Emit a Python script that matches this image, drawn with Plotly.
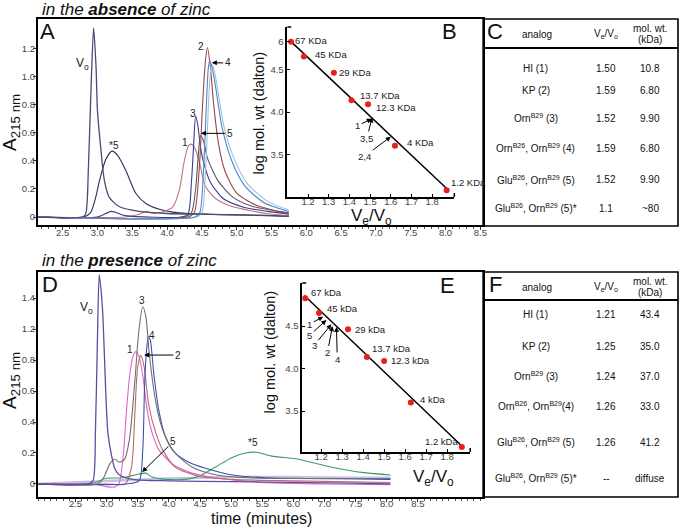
import plotly.graph_objects as go

W, H = 683, 529
FONT = "Liberation Sans, Arial, sans-serif"

# ======================= DATA =======================
# Panel A: elution profiles in the absence of zinc (time, min ; A215)
A_vo_t = [2.15, 2.78, 2.83, 2.87, 2.91, 2.945, 2.98, 3.0, 3.05, 3.1, 3.17, 3.31, 3.6, 4.0, 4.5, 5.0, 5.5, 5.75]
A_vo_y = [0, 0, 0.02, 0.35, 0.95, 1.35, 1.07, 0.76, 0.48, 0.26, 0.14, 0.075, 0.04, 0.025, 0.02, 0.015, 0.01, 0.005]
A_s5_t = [2.15, 2.8, 2.9, 2.97, 3.03, 3.12, 3.21, 3.29, 3.41, 3.55, 3.7, 3.89, 4.08, 4.3, 4.6, 5.0, 5.5, 5.75]
A_s5_y = [0, 0, 0.03, 0.13, 0.26, 0.41, 0.47, 0.44, 0.33, 0.17, 0.095, 0.055, 0.035, 0.025, 0.02, 0.015, 0.01, 0.005]
A_1_t = [2.15, 3.4, 3.6, 3.7, 3.8, 3.95, 4.08, 4.18, 4.24, 4.3, 4.34, 4.4, 4.47, 4.55, 4.7, 4.9, 5.2, 5.5, 5.75]
A_1_y = [0, 0, 0.02, 0.04, 0.025, 0.04, 0.07, 0.2, 0.38, 0.5, 0.52, 0.49, 0.38, 0.22, 0.13, 0.08, 0.045, 0.02, 0.01]
A_2_t = [2.15, 4.3, 4.39, 4.46, 4.51, 4.55, 4.58, 4.62, 4.67, 4.74, 4.83, 5.0, 5.3, 5.6, 5.75]
A_2_y = [0, 0, 0.03, 0.33, 0.8, 1.11, 1.21, 1.08, 0.8, 0.52, 0.33, 0.17, 0.08, 0.04, 0.02]
A_3_t = [2.15, 3.0, 3.2, 3.4, 4.2, 4.3, 4.35, 4.38, 4.41, 4.44, 4.48, 4.52, 4.62, 4.81, 5.1, 5.44, 5.75]
A_3_y = [0, 0, 0.04, 0.01, 0, 0.02, 0.25, 0.5, 0.72, 0.66, 0.5, 0.4, 0.25, 0.13, 0.07, 0.04, 0.02]
A_4_t = [2.15, 4.4, 4.47, 4.52, 4.56, 4.59, 4.61, 4.64, 4.69, 4.79, 4.93, 5.12, 5.4, 5.75]
A_4_y = [0, 0, 0.03, 0.3, 0.75, 1.05, 1.115, 1.08, 0.95, 0.64, 0.4, 0.22, 0.1, 0.04]
A_4b_t = [2.15, 4.42, 4.5, 4.55, 4.59, 4.62, 4.64, 4.67, 4.72, 4.82, 4.96, 5.15, 5.45, 5.75]
A_4b_y = [0, 0, 0.03, 0.3, 0.75, 1.02, 1.09, 1.06, 0.93, 0.64, 0.42, 0.24, 0.11, 0.05]
A_5_t = [2.15, 4.25, 4.35, 4.41, 4.45, 4.48, 4.52, 4.58, 4.73, 4.95, 5.2, 5.6, 5.75]
A_5_y = [0, 0, 0.03, 0.2, 0.45, 0.58, 0.55, 0.42, 0.26, 0.14, 0.08, 0.04, 0.03]

# Panel D: elution profiles in the presence of zinc (axis position ; A215)
D_vo_t = [1.9, 2.7, 2.78, 2.82, 2.85, 2.88, 2.91, 2.94, 2.98, 3.02, 3.08, 3.13, 3.2, 3.42, 4.0, 5.0, 6.0, 7.0, 7.56]
D_vo_y = [0, 0, 0.02, 0.35, 0.9, 1.35, 1.25, 1.08, 0.65, 0.33, 0.18, 0.1, 0.06, 0.03, 0.02, 0.015, 0.01, 0.005, 0.0]
D_3_t = [1.9, 2.85, 2.95, 3.05, 3.13, 3.2, 3.29, 3.37, 3.45, 3.52, 3.58, 3.63, 3.68, 3.76, 3.84, 3.95, 4.1, 4.37, 4.75, 5.28, 6.0, 7.0, 7.56]
D_3_y = [0, 0, 0.04, 0.13, 0.16, 0.14, 0.16, 0.3, 0.65, 1.0, 1.144, 1.08, 0.86, 0.6, 0.43, 0.3, 0.2, 0.11, 0.06, 0.04, 0.035, 0.035, 0.035]
D_1_t = [1.9, 2.8, 2.99, 3.13, 3.2, 3.27, 3.31, 3.37, 3.42, 3.47, 3.52, 3.58, 3.65, 3.73, 3.84, 4.05, 4.37, 4.75, 5.5, 6.5, 7.56]
D_1_y = [0, 0, -0.017, -0.02, 0.005, 0.2, 0.43, 0.7, 0.82, 0.854, 0.82, 0.7, 0.48, 0.33, 0.22, 0.13, 0.07, 0.04, 0.01, 0.0, -0.005]
D_2_t = [1.9, 3.0, 3.3, 3.4, 3.45, 3.5, 3.55, 3.6, 3.68, 3.79, 3.9, 4.1, 4.48, 5.0, 6.0, 7.56]
D_2_y = [0, 0, 0.0, 0.11, 0.43, 0.76, 0.83, 0.76, 0.5, 0.33, 0.22, 0.11, 0.05, 0.03, 0.02, 0.01]
D_4_t = [1.9, 3.3, 3.52, 3.58, 3.61, 3.64, 3.67, 3.7, 3.76, 3.84, 3.95, 4.1, 4.32, 4.6, 5.0, 5.55, 6.5, 7.56]
D_4_y = [0, 0, 0.02, 0.22, 0.65, 0.86, 0.95, 0.93, 0.7, 0.47, 0.3, 0.2, 0.14, 0.1, 0.06, 0.04, 0.035, 0.03]
D_5_t = [1.9, 2.78, 2.99, 3.26, 3.47, 3.63, 3.73, 3.95, 4.27, 4.48, 4.75, 5.01, 5.23, 5.41, 5.65, 6.08, 6.6, 7.14, 7.56]
D_5_y = [0, 0.005, 0.037, 0.04, 0.06, 0.07, 0.045, 0.03, 0.03, 0.05, 0.11, 0.17, 0.2, 0.205, 0.18, 0.16, 0.11, 0.073, 0.058]
D_base_t = [1.9, 3.0, 4.0, 5.0, 6.0, 7.0, 7.56]
D_base_y = [0, 0.02, 0.035, 0.045, 0.045, 0.04, 0.04]

# Tick labels
A_xticks = [2.5, 3.0, 3.5, 4.0, 4.5, 5.0, 5.5, 6.0, 6.5, 7.0, 7.5, 8.0, 8.5]
A_yticks = [0, 0.2, 0.4, 0.6, 0.8, 1.0, 1.2]
A_ytext = ["0", "0.2", "0.4", "0.6", "0.8", "1.0", "1.2"]
D_xticks = [2.5, 3.0, 3.5, 4.0, 4.5, 5.0, 5.5, 6.0, 6.5, 7.0, 7.5, 8.0]
D_xtext = ["2.5", "3.0", "3.5", "4.0", "4.5", "5.0", "5.5", "6.0", "7.0", "7.5", "8.0", "8.5"]
D_yticks = [0, 0.2, 0.4, 0.6, 0.8, 1.0, 1.2]
D_ytext = ["0", "0.2", "0.4", "0.6", "0.8", "1.2", "1.4"]

# Panel B / E: calibration standards (Ve/Vo ; log mol. wt)
std_logmw = [4.826, 4.653, 4.462, 4.137, 4.090, 3.602, 3.079]
B_ratio = [1.118, 1.18, 1.325, 1.41, 1.49, 1.62, 1.87]
B_names = ["67 KDa", "45 KDa", "29 KDa", "13.7 KDa", "12.3 KDa", "4 KDa", "1.2 KDa"]
B_fit_x = [1.113, 1.87]
B_fit_y = [4.84, 3.10]
B_yticks = [4.83, 4.5, 4.0, 3.5]
B_ytext = ["6", "4.5", "4.0", "3.5"]
E_ratio = [1.124, 1.19, 1.328, 1.418, 1.50, 1.627, 1.87]
E_names = ["67 kDa", "45 kDa", "29 kDa", "13.7 kDa", "12.3 kDa", "4 kDa", "1.2 kDa"]
E_fit_x = [1.12, 1.87]
E_fit_y = [4.86, 3.09]
ratio_ticks = [1.2, 1.3, 1.4, 1.5, 1.6, 1.7, 1.8]

# Tables C / F
analogs_C = ["HI (1)", "KP (2)", "Orn<sup>B29</sup> (3)", "Orn<sup>B26</sup>, Orn<sup>B29</sup> (4)",
             "Glu<sup>B26</sup>, Orn<sup>B29</sup> (5)", "Glu<sup>B26</sup>, Orn<sup>B29</sup> (5)*"]
ve_C = ["1.50", "1.59", "1.52", "1.59", "1.52", "1.1"]
mw_C = ["10.8", "6.80", "9.90", "6.80", "9.90", "~80"]
analogs_F = ["HI (1)", "KP (2)", "Orn<sup>B29</sup> (3)", "Orn<sup>B26</sup>, Orn<sup>B29</sup>(4)",
             "Glu<sup>B26</sup>, Orn<sup>B29</sup> (5)", "Glu<sup>B26</sup>, Orn<sup>B29</sup> (5)*"]
ve_F = ["1.21", "1.25", "1.24", "1.26", "1.26", "--"]
mw_F = ["43.4", "35.0", "37.0", "33.0", "41.2", "diffuse"]

# ======================= LAYOUT HELPERS =======================
def X(px):
    return px / W

def Y(py):
    return 1 - py / H

fig = go.Figure()

def curve(t, y, color, xa, ya, width=1.1):
    fig.add_trace(go.Scatter(x=t, y=y, mode="lines", xaxis=xa, yaxis=ya,
                             line=dict(color=color, width=width, shape="spline", smoothing=0.7),
                             hoverinfo="skip", showlegend=False))

# Panel A traces
curve(A_s5_t, A_s5_y, "#2c2c5a", "x", "y")
curve(A_1_t, A_1_y, "#c27480", "x", "y")
curve(A_3_t, A_3_y, "#3c3c88", "x", "y")
curve(A_5_t, A_5_y, "#55556e", "x", "y")
curve(A_2_t, A_2_y, "#9c4646", "x", "y")
curve(A_4b_t, A_4b_y, "#9cc0e4", "x", "y")
curve(A_4_t, A_4_y, "#4f86c6", "x", "y")
curve(A_vo_t, A_vo_y, "#4a4a72", "x", "y", 1.3)

# Panel D traces
curve(D_base_t, D_base_y, "#c4c0e8", "x3", "y3", 2.5)
curve(D_5_t, D_5_y, "#3a9c68", "x3", "y3")
curve(D_1_t, D_1_y, "#e060cf", "x3", "y3")
curve(D_2_t, D_2_y, "#b86a6a", "x3", "y3")
curve(D_4_t, D_4_y, "#3b4fb0", "x3", "y3")
curve(D_3_t, D_3_y, "#707070", "x3", "y3")
curve(D_vo_t, D_vo_y, "#5c4fa0", "x3", "y3", 1.3)

# Calibration insets
for xs, fx, fy, xa, ya in [(B_ratio, B_fit_x, B_fit_y, "x2", "y2"), (E_ratio, E_fit_x, E_fit_y, "x4", "y4")]:
    fig.add_trace(go.Scatter(x=fx, y=fy, mode="lines", xaxis=xa, yaxis=ya,
                             line=dict(color="black", width=1.5), hoverinfo="skip", showlegend=False))
    fig.add_trace(go.Scatter(x=xs, y=std_logmw, mode="markers", xaxis=xa, yaxis=ya,
                             marker=dict(color="#e8201c", size=6), hoverinfo="skip", showlegend=False))

tickfont = dict(family=FONT, size=9.5, color="#444")
main_axis = dict(showline=True, linecolor="black", linewidth=1.6, mirror=True, showgrid=False,
                 zeroline=False, ticks="outside", ticklen=3, tickcolor="#333", tickfont=tickfont)
inset_axis = dict(showline=True, linecolor="black", linewidth=1.5, showgrid=False, zeroline=False,
                  ticks="inside", ticklen=3, tickcolor="black", tickfont=tickfont)

fig.update_layout(
    width=W, height=H, margin=dict(l=0, r=0, t=0, b=0),
    paper_bgcolor="white", plot_bgcolor="rgba(0,0,0,0)", showlegend=False,
    font=dict(family=FONT, color="#222"),
    xaxis=dict(main_axis, domain=[X(38), X(486)], range=[2.143, 8.54], anchor="y",
               tickmode="array", tickvals=A_xticks, ticktext=[f"{v:.1f}" for v in A_xticks],
               ticklabelstandoff=-5,
               minor=dict(tick0=2.5, dtick=0.1, ticks="outside", ticklen=2, tickcolor="#555")),
    yaxis=dict(main_axis, domain=[Y(225), Y(19)], range=[-0.057, 1.413], anchor="x",
               tickmode="array", tickvals=A_yticks, ticktext=A_ytext, ticklabelstandoff=-4),
    xaxis2=dict(inset_axis, domain=[X(289), X(457)], range=[1.1, 1.907], anchor="y2",
                tickmode="array", tickvals=ratio_ticks, ticktext=[f"{v:.1f}" for v in ratio_ticks],
                ticklabelstandoff=-5),
    yaxis2=dict(inset_axis, domain=[Y(197), Y(27)], range=[3.0, 5.0], anchor="x2",
                tickmode="array", tickvals=B_yticks, ticktext=B_ytext),
    xaxis3=dict(main_axis, domain=[X(38), X(486)], range=[1.893, 9.05], anchor="y3",
                tickmode="array", tickvals=D_xticks, ticktext=D_xtext, ticklabelstandoff=-6,
                minor=dict(tick0=2.5, dtick=0.1, ticks="outside", ticklen=2, tickcolor="#555")),
    yaxis3=dict(main_axis, domain=[Y(497), Y(272)], range=[-0.084, 1.368], anchor="x3",
                tickmode="array", tickvals=D_yticks, ticktext=D_ytext, ticklabelstandoff=-4),
    xaxis4=dict(inset_axis, domain=[X(304), X(473)], range=[1.11, 1.91], anchor="y4",
                tickmode="array", tickvals=ratio_ticks, ticktext=[f"{v:.1f}" for v in ratio_ticks],
                ticklabelstandoff=-5),
    yaxis4=dict(inset_axis, domain=[Y(452), Y(283)], range=[3.02, 5.006], anchor="x4",
                tickmode="array", tickvals=[4.5, 4.0, 3.5], ticktext=["4.5", "4.0", "3.5"]),
)

ann = []
shapes = []

def ptext(px, py, text, size, xanchor="center", yanchor="middle", color="#111", angle=0):
    ann.append(dict(x=X(px), y=Y(py), xref="paper", yref="paper", text=text, showarrow=False,
                    xanchor=xanchor, yanchor=yanchor, textangle=angle,
                    font=dict(family=FONT, size=size, color=color)))

def dtext(x, y, text, xa, ya, size=10, xanchor="center"):
    ann.append(dict(x=x, y=y, xref=xa, yref=ya, text=text, showarrow=False, xanchor=xanchor,
                    yanchor="middle", font=dict(family=FONT, size=size, color="#222")))

def darrow(x, y, tx, ty, text, xa, ya, size=10):
    ann.append(dict(x=x, y=y, ax=tx, ay=ty, xref=xa, yref=ya, axref=xa, ayref=ya, text=text,
                    showarrow=True, arrowhead=2, arrowsize=1, arrowwidth=1, arrowcolor="black",
                    font=dict(family=FONT, size=size, color="#222"), standoff=0))

# Titles
ptext(40, 9, "<i>in the <b>absence</b> of zinc</i>", 17, xanchor="left")
ptext(40, 260, "<i>in the <b>presence</b> of zinc</i>", 17, xanchor="left")
ptext(263, 518, "time (minutes)", 16)

# Panel letters
for px, py, s in [(48, 31, "A"), (452, 31, "B"), (498, 31, "C"),
                  (50, 284, "D"), (450, 285, "E"), (498, 284, "F")]:
    ptext(px, py, s, 22)

# Axis titles
ptext(11, 122, "A<sub>215 nm</sub>", 19, angle=-90)
ptext(11, 380, "A<sub>215 nm</sub>", 19, angle=-90)
ptext(261, 113, "log mol. wt (dalton)", 14.5, angle=-90)
ptext(272, 352, "log mol. wt (dalton)", 14.5, angle=-90)
ptext(374, 217, "V<sub>e</sub>/V<sub>o</sub>", 17)
ptext(436, 478, "V<sub>e</sub>/V<sub>o</sub>", 17)

# Panel A labels
dtext(2.786, 1.094, "V<sub>o</sub>", "x", "y", 12)
dtext(3.243, 0.511, "*5", "x", "y", 10)
dtext(4.486, 1.22, "2", "x", "y", 10)
dtext(4.371, 0.739, "3", "x", "y", 10)
dtext(4.257, 0.533, "1", "x", "y", 10)
darrow(4.643, 1.10, 4.871, 1.10, "4", "x", "y")
darrow(4.486, 0.597, 4.90, 0.597, "5", "x", "y")

# Panel D labels
dtext(2.676, 1.135, "V<sub>o</sub>", "x3", "y3", 12)
dtext(3.57, 1.187, "3", "x3", "y3")
dtext(3.73, 0.961, "4", "x3", "y3")
dtext(3.379, 0.865, "1", "x3", "y3")
dtext(5.359, 0.265, "*5", "x3", "y3")
darrow(3.602, 0.832, 4.145, 0.832, "2", "x3", "y3")
darrow(3.57, 0.077, 4.065, 0.271, "5", "x3", "y3")

# Inset B labels
B_lab_x = [1.128, 1.224, 1.34, 1.44, 1.517, 1.667, 1.883]
B_lab_y = [4.84, 4.68, 4.46, 4.19, 4.05, 3.64, 3.17]
for xx, yy, nm in zip(B_lab_x, B_lab_y, B_names):
    dtext(xx, yy, nm, "x2", "y2", 9.5, "left")
darrow(1.508, 3.92, 1.44, 3.84, "1", "x2", "y2", 9.5)
darrow(1.51, 3.935, 1.484, 3.69, "3,5", "x2", "y2", 9.5)
darrow(1.60, 3.71, 1.474, 3.48, "2,4", "x2", "y2", 9.5)

# Inset E labels
E_lab_x = [1.142, 1.217, 1.352, 1.431, 1.522, 1.66, 1.683]
E_lab_y = [4.90, 4.71, 4.46, 4.24, 4.09, 3.64, 3.14]
for xx, yy, nm in zip(E_lab_x, E_lab_y, E_names):
    dtext(xx, yy, nm, "x4", "y4", 9.5, "left")
darrow(1.21, 4.61, 1.146, 4.524, "1", "x4", "y4", 9.5)
darrow(1.225, 4.57, 1.146, 4.394, "5", "x4", "y4", 9.5)
darrow(1.249, 4.52, 1.167, 4.276, "3", "x4", "y4", 9.5)
darrow(1.254, 4.50, 1.23, 4.186, "2", "x4", "y4", 9.5)
darrow(1.273, 4.49, 1.277, 4.108, "4", "x4", "y4", 9.5)

# inset axis end caps
for x0, y0, x1, y1 in [(289, 27, 293, 27), (457, 197, 457, 193), (304, 283, 308, 283), (473, 452, 473, 448)]:
    shapes.append(dict(type="line", xref="paper", yref="paper", x0=X(x0), y0=Y(y0), x1=X(x1), y1=Y(y1),
                       line=dict(color="black", width=1.5)))

# Tables
def table(top, sep, bottom, rows_y, analogs, ve, mw):
    shapes.append(dict(type="rect", xref="paper", yref="paper", x0=X(486), x1=X(682), y0=Y(bottom), y1=Y(top),
                       line=dict(color="black", width=1.6)))
    shapes.append(dict(type="line", xref="paper", yref="paper", x0=X(486), x1=X(682), y0=Y(sep), y1=Y(sep),
                       line=dict(color="black", width=1.8)))
    hy = (top + sep) / 2
    ptext(540, hy + 1, "analog", 10)
    ptext(610, hy + 1, "V<sub>e</sub>/V<sub>o</sub>", 10)
    ptext(654, hy - 5, "mol. wt.", 10)
    ptext(654, hy + 6, "(kDa)", 10)
    for ry, a, v, m in zip(rows_y, analogs, ve, mw):
        ptext(539, ry, a, 10)
        ptext(610, ry, v, 10)
        ptext(654, ry, m, 10)

table(19, 48, 226, [68, 91, 118, 148, 180, 208], analogs_C, ve_C, mw_C)
table(272, 300, 497, [314, 346, 376, 406, 442, 478], analogs_F, ve_F, mw_F)

fig.update_layout(annotations=ann, shapes=shapes)
fig.write_html("out.html", config={"displayModeBar": False},
               post_script="document.body.style.margin='0';document.body.style.overflow='hidden';")
